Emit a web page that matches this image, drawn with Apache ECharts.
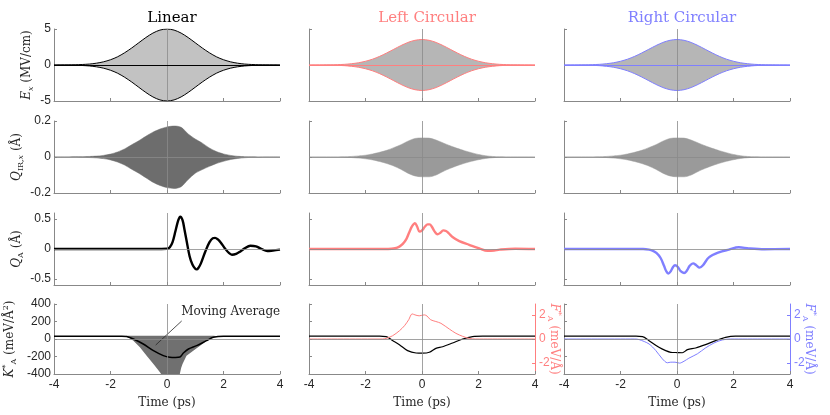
<!DOCTYPE html>
<html><head><meta charset="utf-8">
<script src="https://cdn.jsdelivr.net/npm/echarts@6/dist/echarts.min.js"></script>
<style>html,body{margin:0;padding:0;background:#fff}#c{width:830px;height:415px}</style>
</head><body><div id="c"></div>
<script>
// ---------- data ----------
const panelTitles = ['Linear', 'Left Circular', 'Right Circular'];
const xTicks = [-4, -2, 0, 2, 4];
const exTicks = [-5, 0, 5];
const qirTicks = [-0.2, 0, 0.2];
const qaTicks = [-0.5, 0, 0.5];
const kTicks = [-400, -200, 0, 200, 400];
const fTicks = [-2, 0, 2];

const tEnv = [-4,-3.75,-3.5,-3.25,-3,-2.75,-2.5,-2.25,-2,-1.75,-1.5,-1.25,-1,-0.75,-0.5,-0.25,0,0.25,0.5,0.75,1,1.25,1.5,1.75,2,2.25,2.5,2.75,3,3.25,3.5,3.75,4];

const exLinUp  = [0,0,0.01,0.03,0.07,0.13,0.25,0.44,0.73,1.14,1.70,2.36,3.09,3.81,4.43,4.85,5.0,4.85,4.43,3.81,3.09,2.36,1.70,1.14,0.73,0.44,0.25,0.13,0.07,0.03,0.01,0,0];
const exLinLow = [0,0,-0.01,-0.03,-0.07,-0.13,-0.25,-0.44,-0.73,-1.14,-1.70,-2.36,-3.09,-3.81,-4.43,-4.85,-5.0,-4.85,-4.43,-3.81,-3.09,-2.36,-1.70,-1.14,-0.73,-0.44,-0.25,-0.13,-0.07,-0.03,-0.01,0,0];
const exCircUp  = [0,0,0.01,0.02,0.05,0.09,0.18,0.31,0.52,0.81,1.20,1.67,2.18,2.69,3.13,3.43,3.54,3.43,3.13,2.69,2.18,1.67,1.20,0.81,0.52,0.31,0.18,0.09,0.05,0.02,0.01,0,0];
const exCircLow = [0,0,-0.01,-0.02,-0.05,-0.09,-0.18,-0.31,-0.52,-0.81,-1.20,-1.67,-2.18,-2.69,-3.13,-3.43,-3.54,-3.43,-3.13,-2.69,-2.18,-1.67,-1.20,-0.81,-0.52,-0.31,-0.18,-0.09,-0.05,-0.02,-0.01,0,0];

const qirLinUp  = [0,0,0,0.001,0.002,0.003,0.005,0.009,0.016,0.028,0.045,0.068,0.09,0.115,0.138,0.155,0.167,0.172,0.165,0.128,0.1,0.077,0.05,0.03,0.017,0.009,0.004,0.002,0.001,0,0,0,0];
const qirLinLow = [0,0,0,0,-0.002,-0.003,-0.005,-0.009,-0.016,-0.028,-0.045,-0.068,-0.09,-0.115,-0.14,-0.158,-0.17,-0.175,-0.165,-0.125,-0.09,-0.07,-0.052,-0.036,-0.024,-0.014,-0.008,-0.004,-0.002,-0.001,0,0,0];
const qirCircUp  = [0,0,0,0,0,0.001,0.003,0.006,0.01,0.017,0.026,0.037,0.052,0.068,0.088,0.103,0.106,0.105,0.094,0.078,0.062,0.048,0.035,0.024,0.014,0.007,0.003,0.001,0,0,0,0,0];
const qirCircLow = [0,0,0,0,0,-0.001,-0.003,-0.006,-0.01,-0.016,-0.025,-0.036,-0.05,-0.068,-0.09,-0.105,-0.11,-0.11,-0.1,-0.08,-0.063,-0.048,-0.035,-0.024,-0.015,-0.008,-0.004,-0.001,0,0,0,0,0];

const qaLinT = [-4,-1,0,0.1,0.2,0.3,0.4,0.47,0.55,0.62,0.7,0.8,0.9,1.0,1.05,1.12,1.2,1.35,1.5,1.62,1.7,1.8,1.9,2.05,2.2,2.3,2.45,2.6,2.75,2.95,3.15,3.35,3.55,3.75,4];
const qaLin  = [0,0,0.005,0.03,0.12,0.3,0.48,0.54,0.48,0.32,0.12,-0.12,-0.26,-0.33,-0.34,-0.31,-0.24,-0.05,0.11,0.18,0.185,0.16,0.11,0.01,-0.07,-0.095,-0.08,-0.04,0.01,0.055,0.045,0.0,-0.035,-0.025,-0.01];
const qaLeftT = [-4,-1.2,-0.95,-0.8,-0.68,-0.55,-0.45,-0.35,-0.25,-0.17,-0.09,0.0,0.1,0.2,0.27,0.35,0.45,0.55,0.65,0.75,0.85,0.95,1.08,1.32,1.67,2.03,2.32,2.55,2.75,3.3,4];
const qaLeft  = [0,0,0.012,0.04,0.085,0.17,0.28,0.38,0.43,0.37,0.29,0.31,0.37,0.41,0.41,0.37,0.29,0.245,0.27,0.31,0.3,0.26,0.2,0.13,0.07,0.01,-0.03,-0.025,-0.01,0.005,0];
const qaRightT = [-4,-1.2,-0.99,-0.85,-0.72,-0.58,-0.46,-0.38,-0.31,-0.22,-0.14,-0.07,0.03,0.13,0.25,0.35,0.45,0.57,0.68,0.8,0.92,1.13,1.48,1.84,2.19,2.54,3.1,4];
const qaRight  = [0,0,-0.01,-0.03,-0.07,-0.15,-0.28,-0.37,-0.41,-0.37,-0.3,-0.27,-0.3,-0.37,-0.4,-0.36,-0.28,-0.24,-0.27,-0.31,-0.27,-0.14,-0.057,-0.01,0.028,0.01,-0.003,0];

const kLinRawT    = [-4,-1.6,-1.37,-1.19,-0.96,-0.72,-0.48,-0.25,-0.1,0.2,0.42,0.5,0.55,0.69,0.93,1.17,1.4,1.64,1.8,4];
const kLinRawHigh = [32,32,36,38,38,38,38,38,38,38,38,38,38,38,38,38,38,36,32,32];
const kLinRawLow  = [32,32,20,-19,-95,-190,-286,-381,-450,-500,-450,-330,-286,-190,-133,-76,-19,19,32,32];
const kLinMaT = [-4,-1.6,-1.43,-1.19,-0.84,-0.48,-0.13,0.1,0.3,0.46,0.52,0.58,0.76,1.05,1.4,1.64,2.0,4];
const kLinMa  = [32,32,28,0,-57,-133,-190,-208,-210,-206,-185,-160,-114,-76,-19,19,32,32];
const kLeftT = [-4,-1.5,-1.27,-1.03,-0.8,-0.51,-0.21,0.02,0.26,0.49,0.73,1.08,1.44,1.79,2.15,4];
const kLeft  = [32,32,28,-19,-65,-133,-160,-162,-152,-107,-88,-46,0,27,32,32];
const kRightT = [-4,-1.45,-1.22,-0.99,-0.64,-0.4,-0.22,0.01,0.19,0.37,0.66,1.01,1.37,1.72,2.07,4];
const kRight  = [32,32,28,-19,-95,-133,-152,-155,-157,-122,-103,-65,-19,19,32,32];

const fLeftT = [-4,-1.4,-1.27,-1.04,-0.8,-0.62,-0.47,-0.35,-0.25,-0.1,0.08,0.18,0.3,0.49,0.67,0.97,1.2,1.44,1.67,1.9,4];
const fLeft  = [0,0,0.05,0.27,0.68,1.1,1.6,2.08,2.0,1.92,2.0,1.9,1.6,1.45,1.3,0.82,0.47,0.22,0.05,0,0];
const fRightT = [-4,-1.5,-1.34,-0.99,-0.75,-0.52,-0.34,-0.22,-0.07,0.09,0.25,0.42,0.72,1.01,1.31,1.6,1.9,4];
const fRight  = [0,0,-0.05,-0.41,-0.96,-1.64,-1.97,-1.92,-1.92,-2.0,-1.84,-1.59,-1.23,-0.74,-0.33,-0.08,0,0];

// ---------- layout & style ----------
const PINK = '#ff7f7f', BLUE = '#7f7fff', BLACK = '#000000';
const colColor = [BLACK, PINK, BLUE];
const AX = '#888888', TXT = '#262626';
const SERIF = "'DejaVu Serif', serif", SANS = "'Liberation Sans', Arial, sans-serif";
const colLeft = [54, 309, 564], W = 226;
const rowTop = [29, 121, 213, 304], rowH = [72, 72, 72, 70];
const rowRange = [[-5, 5], [-0.2, 0.2], [-0.6, 0.6], [-400, 400]];
const rowTicks = [exTicks, qirTicks, qaTicks, kTicks];
const rowNameGap = [19, 29, 29, 36];

function pair(t, v) { return t.map((x, i) => [x, v[i]]); }
function richFor(color) {
  return {
    n: {fontFamily: SERIF, fontSize: 12, color: color, lineHeight: 16, verticalAlign: 'middle'},
    i: {fontFamily: SERIF, fontSize: 12, fontStyle: 'italic', color: color, lineHeight: 16, verticalAlign: 'middle'},
    sub: {fontFamily: SERIF, fontSize: 8, color: color, lineHeight: 8, verticalAlign: 'bottom'},
    isub: {fontFamily: SERIF, fontSize: 8, fontStyle: 'italic', color: color, lineHeight: 8, verticalAlign: 'bottom'},
    sup: {fontFamily: SERIF, fontSize: 8, color: color, lineHeight: 8, verticalAlign: 'top'}
  };
}
const yNames = [
  '{i|E}{isub|x}{n| (MV/cm)}',
  '{i|Q}{sub|IR,}{isub|x}{n| (Å)}',
  '{i|Q}{sub|A}{n| (Å)}',
  '{i|K}{sup|*}{sub|A}{n| (meV/Å}{sup|2}{n|)}'
];
const fName = '{i|F}{sup|*}{sub|A}{n| (meV/Å)}';

const grids = [], xAxes = [], yAxes = [], series = [];
for (let r = 0; r < 4; r++) {
  for (let c = 0; c < 3; c++) {
    const gi = r * 3 + c;
    grids.push({left: colLeft[c], top: rowTop[r], width: W, height: rowH[r], outerBoundsMode: 'none', containLabel: false});
    xAxes.push({
      type: 'value', gridIndex: gi, min: -4, max: 4, interval: 2,
      axisLine: {show: true, onZero: false, lineStyle: {color: AX, width: 1}},
      axisTick: {show: true, inside: true, length: 3, lineStyle: {color: AX}},
      axisLabel: {show: r === 3, margin: 5, fontFamily: SANS, fontSize: 12, color: TXT},
      splitLine: {show: false},
      name: r === 3 ? 'Time (ps)' : '', nameLocation: 'middle', nameGap: 23, nameMoveOverlap: false,
      nameTextStyle: {fontFamily: SERIF, fontSize: 12, color: TXT}
    });
    yAxes.push({
      type: 'value', gridIndex: gi, min: rowRange[r][0], max: rowRange[r][1],
      axisLine: {show: true, onZero: false, lineStyle: {color: AX, width: 1}},
      axisTick: {show: true, inside: true, length: 3, lineStyle: {color: AX}, customValues: rowTicks[r]},
      axisLabel: {show: c === 0, margin: 3, fontFamily: SANS, fontSize: 12, color: TXT, customValues: rowTicks[r]},
      splitLine: {show: false},
      name: c === 0 ? yNames[r] : '', nameLocation: 'middle', nameRotate: 90, nameGap: rowNameGap[r], nameMoveOverlap: false,
      nameTextStyle: {rich: richFor(TXT)}
    });
  }
}
// right axes for F*
[1, 2].forEach(c => {
  const gi = 9 + c;
  yAxes.push({
    type: 'value', gridIndex: gi, position: 'right', min: -2.9, max: 2.9,
    axisLine: {show: true, onZero: false, lineStyle: {color: colColor[c], width: 1}},
    axisTick: {show: true, inside: true, length: 3, lineStyle: {color: colColor[c]}, customValues: fTicks},
    axisLabel: {show: true, margin: 4, fontFamily: SANS, fontSize: 12, color: colColor[c], customValues: fTicks},
    splitLine: {show: false},
    name: fName, nameLocation: 'middle', nameRotate: -90, nameGap: 11, nameMoveOverlap: false,
    nameTextStyle: {rich: richFor(colColor[c])}
  });
});

function zeroLines(extra) {
  return {silent: true, symbol: 'none', animation: false, label: {show: false},
    lineStyle: {color: '#8a8a8a', width: 0.8, type: 'solid'},
    data: [{xAxis: 0}, {yAxis: 0}].concat(extra || [])};
}
const base = {type: 'line', showSymbol: false, symbol: 'none', animation: false, silent: true};

// Row 1: E_x envelopes
[[exLinUp, exLinLow, '#c2c2c2'], [exCircUp, exCircLow, '#b6b6b6'], [exCircUp, exCircLow, '#b6b6b6']].forEach((d, c) => {
  series.push(Object.assign({}, base, {xAxisIndex: c, yAxisIndex: c, data: pair(tEnv, d[0]), smooth: 0.3,
    lineStyle: {color: colColor[c], width: 1}, areaStyle: {color: d[2], opacity: 1},
    markLine: zeroLines([{yAxis: 0, lineStyle: {color: colColor[c], width: 1}}])}));
  series.push(Object.assign({}, base, {xAxisIndex: c, yAxisIndex: c, data: pair(tEnv, d[1]), smooth: 0.3,
    lineStyle: {color: colColor[c], width: 1}, areaStyle: {color: d[2], opacity: 1}}));
});
// Row 2: Q_IR envelopes
[[qirLinUp, qirLinLow, '#6d6d6d'], [qirCircUp, qirCircLow, '#9a9a9a'], [qirCircUp, qirCircLow, '#9a9a9a']].forEach((d, c) => {
  const gi = 3 + c;
  series.push(Object.assign({}, base, {xAxisIndex: gi, yAxisIndex: gi, data: pair(tEnv, d[0]), smooth: 0.3,
    lineStyle: {color: d[2], width: 0.5}, areaStyle: {color: d[2], opacity: 1}, markLine: zeroLines()}));
  series.push(Object.assign({}, base, {xAxisIndex: gi, yAxisIndex: gi, data: pair(tEnv, d[1]), smooth: 0.3,
    lineStyle: {color: d[2], width: 0.5}, areaStyle: {color: d[2], opacity: 1}}));
});
// Row 3: Q_A
[[qaLinT, qaLin], [qaLeftT, qaLeft], [qaRightT, qaRight]].forEach((d, c) => {
  const gi = 6 + c;
  series.push(Object.assign({}, base, {xAxisIndex: gi, yAxisIndex: gi, data: pair(d[0], d[1]), smooth: 0.35,
    lineStyle: {color: colColor[c], width: 2.4}, markLine: zeroLines()}));
});
// Row 4: K* (linear): raw band (polygon between max and min, via axis scales) + moving average
series.push({
  type: 'custom', xAxisIndex: 9, yAxisIndex: 9, silent: true, animation: false, z: 2,
  data: [[0, 0]],
  renderItem: function (params, api) {
    const upper = kLinRawT.map((t, i) => api.coord([t, kLinRawHigh[i]]));
    const lower = kLinRawT.map((t, i) => api.coord([t, kLinRawLow[i]])).reverse();
    const cs = params.coordSys;
    return {type: 'polygon', shape: {points: upper.concat(lower)},
      clipPath: {type: 'rect', shape: {x: cs.x, y: cs.y, width: cs.width, height: cs.height}},
      style: {fill: '#707070', stroke: null}};
  }
});
series.push(Object.assign({}, base, {xAxisIndex: 9, yAxisIndex: 9, data: pair(kLinMaT, kLinMa), smooth: 0.3,
  lineStyle: {color: BLACK, width: 1.5}, z: 4,
  markLine: {silent: true, animation: false, symbol: ['none', 'arrow'], symbolSize: [0, 7], label: {show: false},
    lineStyle: {color: TXT, width: 0.8, type: 'solid'},
    data: [[{coord: [0.52, 206]}, {coord: [-0.4, -69]}]]},
  markPoint: {silent: true, animation: false, symbol: 'circle', symbolSize: 0,
    label: {show: true, position: 'right', distance: 0, formatter: 'Moving Average', fontFamily: SERIF, fontSize: 12, color: TXT},
    data: [{coord: [0.5, 312]}]}
}));
series.push(Object.assign({}, base, {xAxisIndex: 9, yAxisIndex: 9, data: [], markLine: zeroLines()}));
// Row 4: K* circular + F*
[[kLeftT, kLeft, fLeftT, fLeft, 12], [kRightT, kRight, fRightT, fRight, 13]].forEach((d, k) => {
  const c = k + 1, gi = 9 + c;
  series.push(Object.assign({}, base, {xAxisIndex: gi, yAxisIndex: gi, data: pair(d[0], d[1]), smooth: 0.3,
    lineStyle: {color: BLACK, width: 1.2}, markLine: zeroLines()}));
  series.push(Object.assign({}, base, {xAxisIndex: gi, yAxisIndex: d[4], data: pair(d[2], d[3]), smooth: 0.3,
    lineStyle: {color: colColor[c], width: 1}}));
});

const titles = panelTitles.map((t, c) => ({
  text: t, left: colLeft[c] + W / 2, top: 6, textAlign: 'center',
  textStyle: {fontFamily: SERIF, fontSize: 15, fontWeight: 'normal', color: colColor[c]}
}));

const chart = echarts.init(document.getElementById('c'), null, {renderer: 'canvas'});
chart.setOption({
  backgroundColor: '#ffffff', animation: false,
  title: titles, grid: grids, xAxis: xAxes, yAxis: yAxes, series: series
});
</script></body></html>
